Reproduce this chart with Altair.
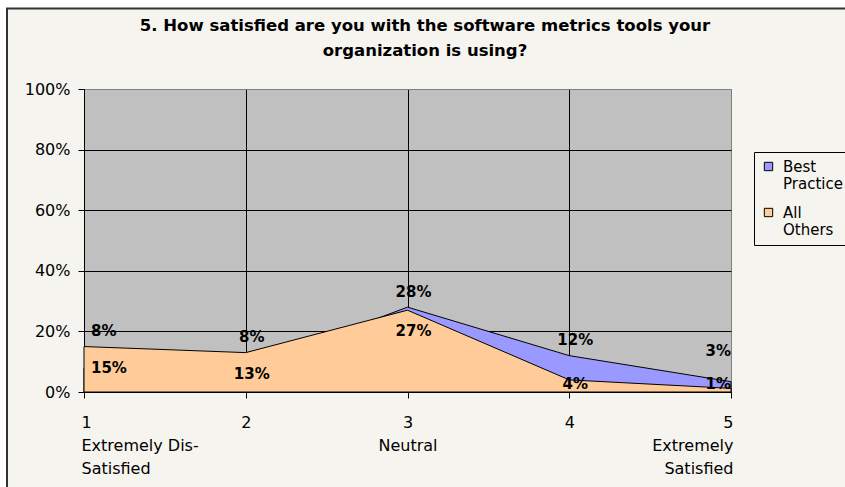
import json
import altair as alt
import pandas as pd

# ---- data ----
x_vals = [1, 2, 3, 4, 5]
best_practice = [0.08, 0.08, 0.28, 0.12, 0.034]
all_others = [0.15, 0.13, 0.27, 0.04, 0.012]
series_names = ["Best Practice", "All Others"]
series_colors = ["#9999FF", "#FFCC99"]
x_label_lines = [["1", "Extremely Dis-", "Satisfied"], ["2"], ["3", "Neutral"], ["4"],
                 ["5", "Extremely", "Satisfied"]]
y_ticks = [0, 0.2, 0.4, 0.6, 0.8, 1.0]
title_lines = ["5. How satisfied are you with the software metrics tools your",
               "organization is using?"]

FONT = "DejaVu Sans"
BG = "#F6F4EF"

df = pd.DataFrame({"x": x_vals, "best": best_practice, "others": all_others})

x_axis = alt.Axis(
    values=x_vals, title=None,
    labelExpr=f"{json.dumps(x_label_lines)}[datum.value - 1]",
    labelAlign={"condition": [{"test": "datum.value == 1", "value": "left"},
                              {"test": "datum.value == 5", "value": "right"}],
                "value": "center"},
    labelOffset={"condition": [{"test": "datum.value == 1", "value": -3},
                               {"test": "datum.value == 5", "value": 2}],
                 "value": 0},
    labelBaseline="top", labelLineHeight=23, labelPadding=16,
    labelFont=FONT, labelFontSize=16, labelColor="black",
    tickSize=6, tickColor="black", domainColor="black",
    grid=True,
    gridColor={"condition": {"test": "datum.value == 5", "value": "#808080"}, "value": "black"},
)
y_axis = alt.Axis(
    values=y_ticks, format=".0%", title=None,
    labelFont=FONT, labelFontSize=16, labelColor="black", labelPadding=8,
    tickSize=6, tickColor="black", domainColor="black",
    grid=True,
    gridColor={"condition": {"test": "datum.value == 1", "value": "#808080"}, "value": "black"},
)
x_enc = alt.X("x:Q", scale=alt.Scale(domain=[1, 5], nice=False, zero=False), axis=x_axis)
color_scale = alt.Scale(domain=series_names, range=series_colors)
legend = alt.Legend(
    title=None, orient="none", legendX=670, legendY=63,
    strokeColor="black", fillColor=BG, padding=7,
    symbolType="square", symbolSize=70, symbolStrokeColor="black", symbolStrokeWidth=1,
    labelExpr="split(datum.label, ' ')", labelFont=FONT, labelFontSize=15,
    labelColor="black", labelOffset=7, rowPadding=13,
)

base = alt.Chart(df)

area_best = base.transform_calculate(series="'Best Practice'").mark_area(
    stroke="black", strokeWidth=1, opacity=1
).encode(
    x=x_enc,
    y=alt.Y("best:Q", stack=None, scale=alt.Scale(domain=[0, 1]), axis=y_axis),
    color=alt.Color("series:N", scale=color_scale, legend=legend),
)
area_others = base.transform_calculate(series="'All Others'").mark_area(
    stroke="black", strokeWidth=1, opacity=1
).encode(
    x=x_enc,
    y=alt.Y("others:Q", stack=None, scale=alt.Scale(domain=[0, 1]), axis=y_axis),
    color=alt.Color("series:N", scale=color_scale, legend=legend),
)

align_expr = alt.expr("datum.x == 1 ? 'left' : datum.x == 5 ? 'right' : 'center'")
dx_expr = alt.expr("datum.x == 1 ? 7 : datum.x == 5 ? 0 : 6")

text_best = base.transform_calculate(
    ly="max(max(datum.best, datum.others) + 0.05, 0.135)"
).mark_text(font=FONT, fontSize=15, fontWeight="bold", baseline="middle",
            align=align_expr, dx=dx_expr, color="black").encode(
    x=x_enc,
    y=alt.Y("ly:Q", scale=alt.Scale(domain=[0, 1]), axis=y_axis),
    text=alt.Text("best:Q", format=".0%"),
)
text_others = base.transform_calculate(
    ly="max(datum.others - 0.07, 0.026)"
).mark_text(font=FONT, fontSize=15, fontWeight="bold", baseline="middle",
            align=align_expr, dx=dx_expr, color="black").encode(
    x=x_enc,
    y=alt.Y("ly:Q", scale=alt.Scale(domain=[0, 1]), axis=y_axis),
    text=alt.Text("others:Q", format=".0%"),
)

# chart-area frame decoration (white margin + dark left/top border) and title
deco = alt.Chart(pd.DataFrame({"k": [0]}))
white_top = deco.mark_rect(fill="white").encode(
    x=alt.value(-84), x2=alt.value(761), y=alt.value(-89), y2=alt.value(-81))
white_left = deco.mark_rect(fill="white").encode(
    x=alt.value(-84), x2=alt.value(-77), y=alt.value(-89), y2=alt.value(398))
border_left = deco.mark_rule(color="#333333", strokeWidth=2).encode(
    x=alt.value(-77), y=alt.value(-81), y2=alt.value(398))
border_top = deco.mark_rule(color="#333333", strokeWidth=2).encode(
    x=alt.value(-78), x2=alt.value(761), y=alt.value(-80.5))
title = deco.mark_text(font=FONT, fontSize=16.5, fontWeight="bold", color="black",
                       align="center", baseline="middle", lineHeight=25).encode(
    x=alt.value(341), y=alt.value(-63), text=alt.value(title_lines))

chart = alt.layer(
    white_top, white_left, border_left, border_top, title,
    area_best, area_others, text_best, text_others,
).properties(
    width=647, height=303,
    autosize=alt.AutoSizeParams(type="none"),
    padding={"left": 84, "top": 89, "right": 114, "bottom": 95},
).configure(
    background=BG,
).configure_view(
    fill="#C0C0C0", stroke="#808080", strokeWidth=1,
)

chart.save("out.html", embed_options={"renderer": "svg", "actions": False})
